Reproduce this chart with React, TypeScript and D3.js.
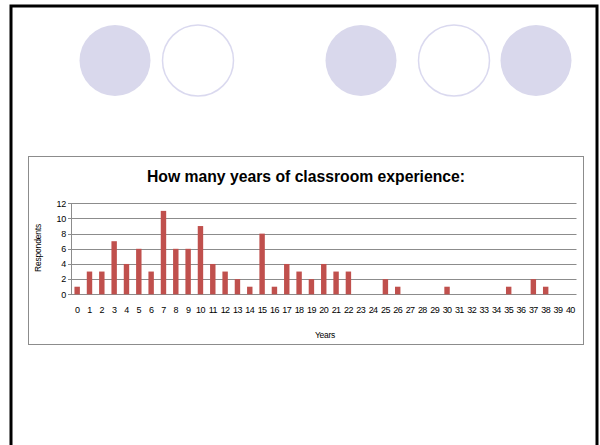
import React, { useEffect, useRef } from 'react'
import * as d3 from 'd3'

const years = d3.range(0, 41).map((d) => String(d))
const respondents = [
  1, 3, 3, 7, 4, 6, 3, 11, 6, 6, 9, 4, 3, 2, 1, 8, 1, 4, 3, 2, 4, 3, 3, 0, 0, 2, 1, 0, 0, 0, 1, 0, 0, 0, 0, 1, 0, 2, 1, 0, 0,
]
const yTicks = [0, 2, 4, 6, 8, 10, 12]
const filledCircles = [115, 361, 536]
const openCircles = [198, 454]

const W = 600
const H = 445

const App = () => {
  const ref = useRef<SVGSVGElement>(null)

  useEffect(() => {
    const svg = d3.select(ref.current)
    svg.selectAll('*').remove()

    svg.append('rect').attr('width', W).attr('height', H).attr('fill', '#fff')

    // slide frame
    svg
      .append('rect')
      .attr('x', 11)
      .attr('y', 6)
      .attr('width', 586)
      .attr('height', 460)
      .attr('fill', 'none')
      .attr('stroke', '#000')
      .attr('stroke-width', 3)

    // decorative circles
    svg
      .selectAll('.dotFilled')
      .data(filledCircles)
      .enter()
      .append('ellipse')
      .attr('cx', (d) => d)
      .attr('cy', 60.5)
      .attr('rx', 35.5)
      .attr('ry', 35.5)
      .attr('fill', '#d9d8ec')
    svg
      .selectAll('.dotOpen')
      .data(openCircles)
      .enter()
      .append('ellipse')
      .attr('cx', (d) => d)
      .attr('cy', 60.5)
      .attr('rx', 35.5)
      .attr('ry', 35.5)
      .attr('fill', '#fff')
      .attr('stroke', '#dad9ef')
      .attr('stroke-width', 1.5)

    // chart box
    svg
      .append('rect')
      .attr('x', 28.5)
      .attr('y', 156.5)
      .attr('width', 555)
      .attr('height', 188)
      .attr('fill', '#fff')
      .attr('stroke', '#8c8c8c')
      .attr('stroke-width', 1)

    const font = '"Liberation Sans", Arial, sans-serif'

    svg
      .append('text')
      .attr('x', 306)
      .attr('y', 182)
      .attr('text-anchor', 'middle')
      .attr('font-family', font)
      .attr('font-weight', 'bold')
      .attr('font-size', 16)
      .attr('textLength', 318)
      .attr('lengthAdjust', 'spacingAndGlyphs')
      .attr('fill', '#000')
      .text('How many years of classroom experience:')

    const left = 71
    const right = 576.5
    const x = d3.scaleBand().domain(years).range([left, right]).paddingInner(0.56).paddingOuter(0.28)
    const y = d3.scaleLinear().domain([0, 12]).range([294.3, 203.3])

    const g = svg.append('g')

    // gridlines
    g.selectAll('.grid')
      .data(yTicks)
      .enter()
      .append('line')
      .attr('x1', left - 3)
      .attr('x2', right)
      .attr('y1', (d) => Math.round(y(d)) + 0.5)
      .attr('y2', (d) => Math.round(y(d)) + 0.5)
      .attr('stroke', '#8c8c8c')
      .attr('stroke-width', 1)

    g.append('line')
      .attr('x1', left + 0.5)
      .attr('x2', left + 0.5)
      .attr('y1', y(12))
      .attr('y2', y(0))
      .attr('stroke', '#8c8c8c')

    g.selectAll('.ylab')
      .data(yTicks)
      .enter()
      .append('text')
      .attr('x', 66)
      .attr('y', (d) => y(d) + 3.2)
      .attr('text-anchor', 'end')
      .attr('font-family', font)
      .attr('font-size', 9)
      .attr('letter-spacing', -0.3)
      .attr('fill', '#000')
      .text((d) => d)

    g.selectAll('.bar')
      .data(respondents)
      .enter()
      .append('rect')
      .attr('x', (d, i) => x(years[i]) as number)
      .attr('width', x.bandwidth())
      .attr('y', (d) => y(d))
      .attr('height', (d) => y(0) - y(d))
      .attr('fill', '#c0504d')

    g.selectAll('.xlab')
      .data(years)
      .enter()
      .append('text')
      .attr('x', (d) => (x(d) as number) + x.bandwidth() / 2)
      .attr('y', 312.5)
      .attr('text-anchor', 'middle')
      .attr('font-family', font)
      .attr('font-size', 9)
      .attr('letter-spacing', -0.6)
      .attr('fill', '#000')
      .text((d) => d)

    svg
      .append('text')
      .attr('x', 325)
      .attr('y', 338)
      .attr('text-anchor', 'middle')
      .attr('font-family', font)
      .attr('font-size', 8.5)
      .attr('letter-spacing', -0.3)
      .attr('fill', '#000')
      .text('Years')

    svg
      .append('text')
      .attr('transform', 'translate(41,248) rotate(-90)')
      .attr('text-anchor', 'middle')
      .attr('font-family', font)
      .attr('font-size', 8.5)
      .attr('letter-spacing', -0.2)
      .attr('fill', '#000')
      .text('Respondents')
  }, [])

  return (
    <svg
      ref={ref}
      width={W}
      height={H}
      style={{ position: 'absolute', left: 0, top: 0, display: 'block' }}
    />
  )
}

export default App
